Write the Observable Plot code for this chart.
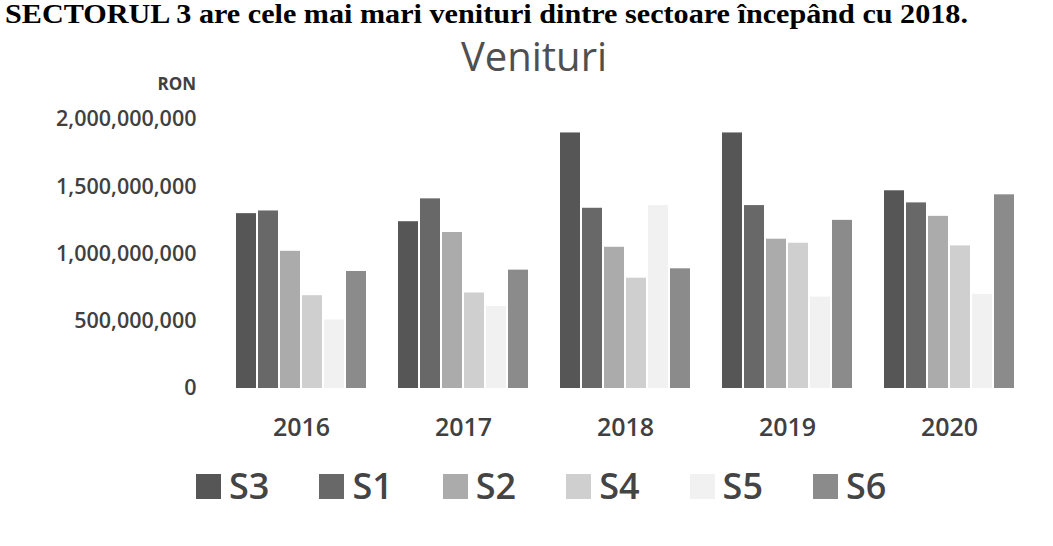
<!DOCTYPE html>
<html><head><meta charset="utf-8">
<script src="https://cdn.jsdelivr.net/npm/d3@7"></script>
<script src="https://cdn.jsdelivr.net/npm/@observablehq/plot@0.6"></script>
<style>
body{margin:0;background:#fff;}
#wrap{position:relative;width:1053px;height:546px;overflow:hidden;font-family:"Open Sans",sans-serif;}
#head{position:relative;height:95px;}
#note{position:absolute;left:5px;top:1px;font-family:"Liberation Serif",serif;font-weight:bold;font-size:27px;line-height:1;white-space:nowrap;color:#000;transform-origin:0 0;}
#title{position:absolute;left:0;width:1068px;top:36px;text-align:center;font-size:40px;color:#4f4f4f;line-height:1;}
#ron{position:absolute;right:857px;top:72px;font-size:17px;font-weight:700;color:#404040;}
#legend{position:relative;height:101px;}
.item{position:absolute;top:23px;display:flex;align-items:center;}
.sw{width:25px;height:25px;margin-right:8px;}
.lab{font-size:36px;font-weight:600;color:#444;line-height:1;}
</style></head>
<body><div id="wrap">
<div id="head">
  <div id="note">SECTORUL 3 are cele mai mari venituri dintre sectoare începând cu 2018.</div>
  <div id="title">Venituri</div>
  <div id="ron">RON</div>
</div>
<div id="chart"></div>
<div id="legend"></div>
</div>
<script>
const years = ["2016","2017","2018","2019","2020"];
const sectors = ["S3","S1","S2","S4","S5","S6"];
const S3 = [1.30e9, 1.24e9, 1.90e9, 1.90e9, 1.47e9];
const S1 = [1.32e9, 1.41e9, 1.34e9, 1.36e9, 1.38e9];
const S2 = [1.02e9, 1.16e9, 1.05e9, 1.11e9, 1.28e9];
const S4 = [0.69e9, 0.71e9, 0.82e9, 1.08e9, 1.06e9];
const S5 = [0.51e9, 0.61e9, 1.36e9, 0.68e9, 0.70e9];
const S6 = [0.87e9, 0.88e9, 0.89e9, 1.25e9, 1.44e9];
const yTicks = [0, 500000000, 1000000000, 1500000000, 2000000000];
const colors = ["#565656", "#686868", "#ababab", "#cfcfcf", "#f1f1f1", "#8b8b8b"];

const series = {S3, S1, S2, S4, S5, S6};
const rows = [];
years.forEach((y, i) => sectors.forEach(s => rows.push({year: y, sector: s, value: series[s][i]})));

const chart = Plot.plot({
  width: 1053,
  height: 350,
  marginLeft: 220,
  marginRight: 23,
  marginTop: 24,
  marginBottom: 57,
  style: {fontFamily: "'Open Sans', sans-serif", color: "#404040", background: "transparent"},
  fx: {domain: years, paddingInner: 0.2, paddingOuter: 0.1, label: null},
  x: {domain: sectors, paddingInner: 0.1, paddingOuter: 0, axis: null},
  y: {domain: [0, 2e9], label: null},
  color: {domain: sectors, range: colors},
  marks: [
    Plot.barY(rows, {fx: "year", x: "sector", y: "value", fill: "sector"}),
    Plot.axisY({ticks: yTicks, tickFormat: d3.format(","), tickSize: 0, tickPadding: 40, fontSize: 21.5, fontWeight: 600, label: null}),
    Plot.axisFx({anchor: "bottom", tickSize: 0, tickPadding: 30, fontSize: 25, fontWeight: 600, label: null})
  ]
});
document.getElementById("chart").appendChild(chart);

const legend = document.getElementById("legend");
sectors.forEach((s, i) => {
  const it = document.createElement("div");
  it.className = "item";
  it.style.left = (196 + i * 123.4) + "px";
  it.innerHTML = `<div class="sw" style="background:${colors[i]}"></div><div class="lab">${s}</div>`;
  legend.appendChild(it);
});

// fit the heading sentence to the width it takes in the reference
const note = document.getElementById("note");
const w = note.getBoundingClientRect().width;
note.style.transform = `scaleX(${963 / w})`;
</script>
</body></html>
